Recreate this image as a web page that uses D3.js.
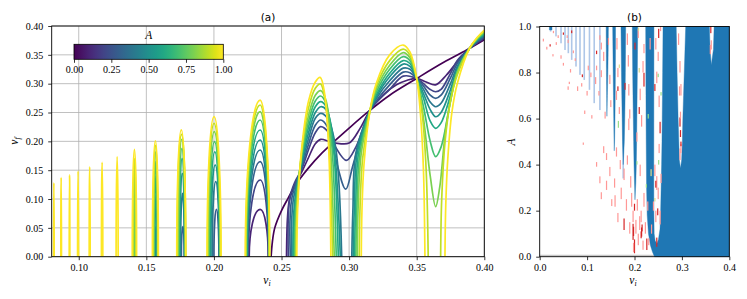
<!DOCTYPE html>
<html>
<head>
<meta charset="utf-8">
<script src="https://cdn.jsdelivr.net/npm/d3@7"></script>
<style>
body { margin: 0; background: #fff; }
</style>
</head>
<body>
<svg id="fig" width="747" height="299"></svg>
<script>
// ---------------- data ----------------

// amplitudes of the curves in panel (a)
var aValues = [0, 0.1, 0.2, 0.3, 0.4, 0.5, 0.6, 0.7, 0.8, 0.9, 1.0];

// ticks
var xTicksA = [0.10, 0.15, 0.20, 0.25, 0.30, 0.35, 0.40];
var yTicksA = [0.00, 0.05, 0.10, 0.15, 0.20, 0.25, 0.30, 0.35, 0.40];
var xTicksB = [0.0, 0.1, 0.2, 0.3, 0.4];
var yTicksB = [0.0, 0.2, 0.4, 0.6, 0.8, 1.0];
var cbTicks = [0.00, 0.25, 0.50, 0.75, 1.00];

// narrow resonance windows: [A, left v_i, right v_i, top v_f, (peak v_i)]
var narrowArches = [
  [1.0, 0.08137, 0.08183, 0.128],
  [1.0, 0.08677, 0.08723, 0.137],
  [1.0, 0.09297, 0.09343, 0.1417],
  [1.0, 0.09915, 0.09985, 0.1486],
  [1.0, 0.10775, 0.10845, 0.156],
  [1.0, 0.1168, 0.1178, 0.1636],
  [1.0, 0.12765, 0.12915, 0.1734],
  [0.6, 0.1414, 0.1420, 0.069], [0.7, 0.1411, 0.1421, 0.116], [0.8, 0.1408, 0.1422, 0.145],
  [0.9, 0.1402, 0.1424, 0.170], [1.0, 0.1396, 0.1428, 0.186],
  [0.4, 0.1566, 0.1578, 0.052], [0.5, 0.1563, 0.1580, 0.107], [0.6, 0.1560, 0.1581, 0.140],
  [0.7, 0.1557, 0.1583, 0.165], [0.8, 0.1554, 0.1584, 0.182], [0.9, 0.1550, 0.1586, 0.193],
  [1.0, 0.1545, 0.1589, 0.201],
  [0.3, 0.1759, 0.1781, 0.052], [0.4, 0.1753, 0.1782, 0.110], [0.5, 0.1748, 0.1784, 0.1446],
  [0.6, 0.1744, 0.1785, 0.1706], [0.7, 0.1740, 0.1787, 0.188], [0.8, 0.1735, 0.1789, 0.2035],
  [0.9, 0.1729, 0.1791, 0.212], [1.0, 0.1725, 0.1792, 0.220],
  [0.3, 0.2000, 0.2037, 0.082], [0.4, 0.1987, 0.2040, 0.130], [0.5, 0.1977, 0.2042, 0.159],
  [0.6, 0.1970, 0.2043, 0.182], [0.7, 0.1964, 0.2045, 0.1994], [0.8, 0.1958, 0.2047, 0.2167],
  [0.9, 0.1953, 0.2049, 0.231], [1.0, 0.1949, 0.2053, 0.2427],
  [0.1, 0.2261, 0.2402, 0.082, 0.2342], [0.2, 0.2255, 0.2404, 0.133, 0.2342],
  [0.3, 0.2251, 0.2405, 0.165, 0.2342], [0.4, 0.2248, 0.2406, 0.185, 0.2342],
  [0.5, 0.2245, 0.2407, 0.2023, 0.2342], [0.6, 0.2242, 0.2408, 0.2197, 0.2342],
  [0.7, 0.2240, 0.2409, 0.237, 0.2342], [0.8, 0.2237, 0.2410, 0.2514, 0.2342],
  [0.9, 0.2235, 0.2411, 0.263, 0.2342], [1.0, 0.2232, 0.2412, 0.2716, 0.2342]
];

// wide region curves: [A, [[v_i, v_f], ...]]
var wideSegments = [
  [0.0, [[0.2423,0],[0.2432,0.025],[0.245,0.05],[0.25,0.08],[0.255,0.102],[0.26,0.123],[0.27,0.154],
         [0.28,0.18],[0.29,0.202],[0.30,0.223],[0.3155,0.254],[0.33,0.28],[0.35,0.309],[0.37,0.337],
         [0.389,0.361],[0.40,0.376]]],
  [0.1, [[0.2537,0],[0.2545,0.07],[0.256,0.1],[0.26,0.125],[0.265,0.147],[0.27,0.172],[0.275,0.196],
         [0.279,0.2035],[0.285,0.2],[0.29,0.197],[0.30,0.197],[0.308,0.222],[0.3155,0.254],[0.325,0.28],
         [0.335,0.298],[0.343,0.306],[0.35,0.309],[0.357,0.303],[0.364,0.298],[0.372,0.315],[0.38,0.338],
         [0.389,0.361],[0.395,0.371],[0.40,0.378]]],
  [0.2, [[0.255,0],[0.256,0.1],[0.26,0.13],[0.265,0.152],[0.27,0.186],[0.275,0.215],[0.279,0.2254],
         [0.285,0.215],[0.29,0.19],[0.298,0.167],[0.305,0.19],[0.3155,0.254],[0.32,0.267],[0.33,0.29],
         [0.34,0.313],[0.35,0.309],[0.355,0.3],[0.36,0.29],[0.364,0.286],[0.368,0.29],[0.375,0.318],
         [0.38,0.34],[0.389,0.361],[0.395,0.372],[0.40,0.38]]],
  [0.3, [[0.2565,0],[0.2575,0.1],[0.265,0.155],[0.27,0.195],[0.275,0.228],[0.279,0.237],[0.284,0.225],
         [0.29,0.17],[0.2975,0.117],[0.303,0.16],[0.3155,0.254],[0.32,0.27],[0.33,0.298],[0.34,0.32],
         [0.345,0.319],[0.35,0.309],[0.355,0.296],[0.36,0.28],[0.364,0.2746],[0.368,0.28],[0.375,0.31],
         [0.38,0.335],[0.389,0.361],[0.395,0.373],[0.40,0.381]]],
  [0.4, [[0.2575,0],[0.2585,0.095],[0.265,0.16],[0.27,0.205],[0.275,0.24],[0.279,0.2486],[0.284,0.24],
         [0.29,0.19],[0.2945,0]]],
  [0.4, [[0.302,0],[0.3028,0.08],[0.305,0.18],[0.3155,0.254],[0.32,0.274],[0.33,0.305],[0.34,0.327],
         [0.345,0.325],[0.35,0.309],[0.355,0.29],[0.36,0.268],[0.364,0.26],[0.368,0.266],[0.375,0.3],
         [0.38,0.33],[0.389,0.361],[0.395,0.375],[0.40,0.383]]],
  [0.5, [[0.2585,0],[0.2595,0.09],[0.265,0.165],[0.27,0.215],[0.275,0.25],[0.279,0.26],[0.283,0.255],
         [0.288,0.21],[0.2935,0]]],
  [0.5, [[0.303,0],[0.3038,0.08],[0.306,0.18],[0.3155,0.254],[0.32,0.277],[0.33,0.312],[0.34,0.334],
         [0.345,0.33],[0.35,0.309],[0.355,0.283],[0.36,0.255],[0.364,0.2427],[0.368,0.25],[0.375,0.29],
         [0.38,0.326],[0.389,0.361],[0.395,0.376],[0.40,0.385]]],
  [0.6, [[0.259,0],[0.26,0.085],[0.265,0.17],[0.27,0.225],[0.275,0.26],[0.279,0.2688],[0.283,0.26],
         [0.288,0.2],[0.292,0]]],
  [0.6, [[0.304,0],[0.3048,0.08],[0.307,0.18],[0.3155,0.254],[0.32,0.28],[0.33,0.318],[0.34,0.34],
         [0.345,0.335],[0.35,0.309],[0.355,0.275],[0.36,0.235],[0.364,0.2226],[0.368,0.232],[0.375,0.28],
         [0.38,0.322],[0.389,0.361],[0.395,0.377],[0.40,0.386]]],
  [0.7, [[0.2597,0],[0.2606,0.085],[0.265,0.175],[0.27,0.235],[0.275,0.27],[0.279,0.2786],[0.283,0.265],
         [0.287,0.2],[0.2905,0]]],
  [0.7, [[0.305,0],[0.3057,0.08],[0.308,0.18],[0.3155,0.254],[0.32,0.285],[0.33,0.325],[0.34,0.347],
         [0.345,0.34],[0.35,0.309],[0.355,0.26],[0.36,0.2],[0.364,0.1734],[0.368,0.19],[0.375,0.27],
         [0.38,0.32],[0.389,0.361],[0.395,0.378],[0.40,0.388]]],
  [0.8, [[0.2603,0],[0.2612,0.085],[0.265,0.18],[0.27,0.245],[0.275,0.28],[0.279,0.288],[0.283,0.27],
         [0.286,0.2],[0.289,0]]],
  [0.8, [[0.306,0],[0.3066,0.08],[0.309,0.18],[0.3155,0.254],[0.32,0.29],[0.33,0.332],[0.34,0.354],
         [0.345,0.345],[0.35,0.309],[0.355,0.24],[0.36,0.14],[0.364,0.0867],[0.367,0.12],[0.372,0.23],
         [0.38,0.32],[0.389,0.361],[0.395,0.379],[0.40,0.39]]],
  [0.9, [[0.2608,0],[0.2616,0.085],[0.265,0.185],[0.27,0.258],[0.275,0.292],[0.2788,0.2997],[0.282,0.275],
         [0.285,0.2],[0.2878,0]]],
  [0.9, [[0.3075,0],[0.308,0.08],[0.31,0.17],[0.3155,0.254],[0.32,0.295],[0.33,0.34],[0.34,0.36],
         [0.345,0.35],[0.35,0.309],[0.354,0.25],[0.357,0.15],[0.3585,0]]],
  [0.9, [[0.3677,0],[0.3685,0.1],[0.371,0.2],[0.375,0.27],[0.38,0.315],[0.389,0.361],[0.395,0.38],[0.40,0.391]]],
  [1.0, [[0.2613,0],[0.262,0.087],[0.265,0.19],[0.27,0.27],[0.275,0.303],[0.2786,0.311],[0.282,0.281],
         [0.285,0.182],[0.2865,0]]],
  [1.0, [[0.309,0],[0.3095,0.08],[0.311,0.16],[0.3155,0.254],[0.32,0.3],[0.33,0.35],[0.34,0.367],
         [0.345,0.355],[0.35,0.309],[0.353,0.24],[0.355,0.15],[0.3561,0]]],
  [1.0, [[0.3709,0],[0.3715,0.09],[0.373,0.17],[0.376,0.25],[0.38,0.3],[0.389,0.361],[0.395,0.381],[0.40,0.393]]]
];

// panel (b): escape regions [v_i, A] outlines
var escapeRegions = [
  [[0.4,0],[0.4,1],[0.368,1],[0.3665,0.9],[0.362,0.833],[0.3595,0.9],[0.358,1],[0.308,1],[0.3065,0.9],
   [0.305,0.8],[0.3035,0.7],[0.302,0.6],[0.301,0.5],[0.2995,0.42],[0.297,0.384],[0.2945,0.42],[0.2935,0.5],
   [0.292,0.6],[0.291,0.7],[0.2898,0.8],[0.289,0.9],[0.288,1],[0.2602,1],[0.2598,0.9],[0.2594,0.8],
   [0.259,0.7],[0.2585,0.6],[0.258,0.5],[0.2572,0.4],[0.2562,0.3],[0.2552,0.2],[0.2538,0.12],[0.2505,0.075],
   [0.247,0.055],[0.2435,0.07],[0.2415,0.1],[0.2408,0.2],[0.2407,0.4],[0.2408,0.6],[0.2409,0.8],[0.241,1],
   [0.2236,1],[0.2238,0.9],[0.2242,0.7],[0.2247,0.5],[0.2255,0.3],[0.2268,0.18],[0.2295,0.1],[0.2335,0.05],
   [0.238,0.02],[0.2423,0]],
  [[0.1954,1],[0.1958,0.9],[0.1962,0.8],[0.1968,0.7],[0.1975,0.6],[0.1982,0.5],[0.199,0.4],[0.2,0.32],
   [0.201,0.247],[0.2028,0.32],[0.2038,0.4],[0.2045,0.5],[0.205,0.6],[0.2055,0.7],[0.206,0.8],[0.2064,0.9],[0.2068,1]],
  [[0.1715,1],[0.172,0.9],[0.1725,0.8],[0.1732,0.7],[0.174,0.6],[0.1748,0.5],[0.1762,0.4],[0.1785,0.5],
   [0.1795,0.6],[0.1802,0.7],[0.1807,0.8],[0.1811,0.9],[0.1814,1]],
  [[0.1540,1],[0.1545,0.9],[0.155,0.8],[0.1556,0.7],[0.1562,0.6],[0.1568,0.5],[0.1573,0.46],[0.158,0.5],
   [0.1588,0.6],[0.1593,0.7],[0.1597,0.8],[0.1599,0.9],[0.1600,1]],
  [[0.1402,1],[0.1405,0.9],[0.1408,0.8],[0.1412,0.7],[0.1418,0.61],[0.1428,0.7],[0.1438,0.8],[0.1445,0.9],[0.1449,1]],
  [[0.0205,1],[0.0205,0.985],[0.026,0.985],[0.026,1]]
];

// panel (b): thin light-blue windows [v_i, lowest A]
var lightWindows = [
  [0.023,0.978],[0.0344,0.957],[0.045,0.927],[0.0534,0.898],[0.0604,0.884],[0.0675,0.855],
  [0.0766,0.826],[0.085,0.79],[0.094,0.768],[0.105,0.725],[0.115,0.667],[0.127,0.637],
  [0.1762,0.34]
];

// panel (b): scattered outcomes [v_i, A, length in A, class]
var speckles = [
  [0.0077,0.935,0.012,1],[0.029,0.971,0.01,1],[0.022,0.913,0.01,0],[0.039,0.95,0.012,1],[0.05,0.964,0.01,0],
  [0.06,0.928,0.015,1],[0.0675,0.971,0.012,0],[0.071,0.884,0.012,1],[0.06,0.725,0.015,1],[0.0625,0.75,0.01,1],
  [0.0886,0.739,0.015,1],[0.09,0.78,0.012,0],[0.1025,0.81,0.02,1],[0.12,0.81,0.02,1],[0.12,0.88,0.015,0],
  [0.127,0.942,0.02,1],[0.13,0.9,0.03,1],[0.162,0.681,0.04,1],[0.18,0.725,0.03,0],[0.187,0.826,0.05,1],
  [0.201,0.9,0.03,0],[0.22,0.884,0.04,1],[0.22,0.739,0.06,0],[0.215,0.565,0.05,1],[0.247,0.754,0.05,1],
  [0.254,0.536,0.05,0],[0.296,0.565,0.04,0],[0.297,0.6,0.03,1],[0.361,0.971,0.03,0],[0.362,0.9,0.04,1],
  [0.092,0.486,0.01,1],[0.12,0.391,0.02,1],[0.127,0.319,0.03,1],[0.141,0.42,0.03,1],[0.141,0.29,0.04,1],
  [0.159,0.217,0.05,1],[0.162,0.435,0.04,1],[0.178,0.333,0.05,1],[0.178,0.116,0.05,0],[0.194,0.217,0.06,1],
  [0.197,0.073,0.07,0],[0.2,0.015,0.06,0],[0.211,0.116,0.06,1],[0.215,0.087,0.04,0],[0.22,0.217,0.06,1],
  [0.226,0.029,0.05,0],[0.247,0.29,0.06,1],[0.247,0.043,0.04,0],[0.254,0.14,0.06,1],[0.296,0.42,0.05,1],
  [0.166,0.56,0.03,2],[0.229,0.6,0.02,2],[0.21,0.8,0.02,3],[0.251,0.4,0.02,2],[0.235,0.35,0.03,3],
  [0.205,0.5,0.04,1],[0.188,0.55,0.05,1],[0.233,0.9,0.05,1],[0.251,0.95,0.04,0],[0.298,0.7,0.05,1],
  [0.015,0.9,0.012,1],[0.028,0.87,0.01,1],[0.035,0.92,0.012,1],[0.045,0.86,0.015,1],[0.05,0.83,0.012,1],
  [0.058,0.95,0.012,1],[0.065,0.8,0.015,1],[0.075,0.85,0.012,1],[0.08,0.72,0.02,1],[0.095,0.62,0.015,1],
  [0.1,0.7,0.02,1],[0.108,0.78,0.02,1],[0.11,0.6,0.015,1],[0.118,0.75,0.03,1],[0.125,0.7,0.02,1],
  [0.13,0.78,0.03,1],[0.135,0.85,0.04,1],[0.138,0.6,0.03,1],[0.145,0.92,0.03,1],[0.148,0.75,0.04,1],
  [0.15,0.65,0.03,1],[0.163,0.9,0.05,1],[0.165,0.78,0.04,1],[0.168,0.62,0.03,1],[0.185,0.92,0.05,1],
  [0.188,0.7,0.05,1],[0.19,0.6,0.04,1],[0.208,0.95,0.04,1],[0.212,0.68,0.05,1],[0.218,0.8,0.05,1],
  [0.245,0.9,0.05,1],[0.25,0.85,0.04,1],[0.252,0.65,0.05,1],[0.255,0.98,0.02,1],[0.293,0.92,0.05,1],
  [0.296,0.8,0.05,1],[0.295,0.7,0.04,1],[0.298,0.45,0.04,1],[0.36,0.88,0.04,1],
  [0.165,0.72,0.02,0],[0.21,0.62,0.03,0],[0.243,0.72,0.03,0],[0.297,0.52,0.03,0],[0.298,0.48,0.02,0],
  [0.168,0.82,0.015,3],[0.2085,0.98,0.015,3],[0.25,0.78,0.015,2],[0.256,0.7,0.015,2],
  [0.13,0.25,0.03,1],[0.135,0.45,0.03,1],[0.148,0.35,0.04,1],[0.152,0.22,0.03,1],[0.158,0.3,0.04,1],
  [0.165,0.15,0.04,1],[0.17,0.38,0.04,1],[0.172,0.25,0.05,1],[0.183,0.2,0.05,1],[0.185,0.4,0.04,1],
  [0.19,0.1,0.05,1],[0.192,0.3,0.05,1],[0.197,0.15,0.05,1],[0.198,0.02,0.04,1],[0.203,0.1,0.06,1],
  [0.206,0.2,0.05,1],[0.208,0.05,0.05,1],[0.212,0.35,0.05,1],[0.214,0.15,0.05,1],[0.218,0.03,0.04,1],
  [0.223,0.1,0.05,1],[0.228,0.2,0.04,1],[0.23,0.05,0.03,1],[0.236,0.1,0.04,1],[0.24,0.2,0.04,1],
  [0.243,0.35,0.05,1],[0.245,0.15,0.05,1],[0.25,0.25,0.05,1],[0.252,0.45,0.04,1],[0.256,0.32,0.04,1],
  [0.198,0.09,0.04,0],[0.214,0.08,0.03,0],[0.216,0.11,0.03,0],[0.2,0.2,0.03,0],[0.245,0.3,0.03,0],
  [0.249,0.18,0.03,0],[0.205,0.4,0.015,2],[0.225,0.3,0.015,2],[0.243,0.24,0.015,3]
];

// ---------------- layout ----------------
var PA = {left: 51.7, right: 484.3, top: 26, bottom: 256.7};
var PB = {left: 539.7, right: 729.3, top: 26.5, bottom: 256.7};
var LINEW = 1.7;
var SERIF = "Liberation Serif";
var SANS = "DejaVu Sans";
var specColors = ["#d62728", "#ff9896", "#98df8a", "#dbdb8d"];

var svg = d3.select("#fig");
var defs = svg.append("defs");

// scales
var xa = d3.scaleLinear().domain([0.08, 0.40]).range([PA.left, PA.right]);
var ya = d3.scaleLinear().domain([0, 0.40]).range([PA.bottom, PA.top]);
var xb = d3.scaleLinear().domain([0, 0.4]).range([PB.left, PB.right]);
var yb = d3.scaleLinear().domain([0, 1]).range([PB.bottom, PB.top]);
var color = function(a){ return d3.interpolateViridis(a); };

// ---------------- panel (a) ----------------
defs.append("clipPath").attr("id", "clipA")
  .append("rect")
  .attr("x", PA.left).attr("y", PA.top)
  .attr("width", PA.right - PA.left).attr("height", PA.bottom - PA.top);

// grid
var grid = svg.append("g");
grid.selectAll(".gx").data(xTicksA).enter().append("line")
  .attr("x1", function(d){ return xa(d); }).attr("x2", function(d){ return xa(d); })
  .attr("y1", PA.top).attr("y2", PA.bottom)
  .style("stroke", "#b0b0b0").style("stroke-width", 0.8);
grid.selectAll(".gy").data(yTicksA).enter().append("line")
  .attr("x1", PA.left).attr("x2", PA.right)
  .attr("y1", function(d){ return ya(d); }).attr("y2", function(d){ return ya(d); })
  .style("stroke", "#b0b0b0").style("stroke-width", 0.8);

var curves = svg.append("g").attr("clip-path", "url(#clipA)");

// arch = two quarter ellipses meeting at the peak
var archPath = function(d){
  var x0 = xa(d[1]), x1 = xa(d[2]);
  var xp = xa(d.length > 4 ? d[4] : (d[1] + d[2]) / 2);
  var y0 = ya(0), yt = ya(d[3]);
  return "M" + x0 + "," + y0 +
    "A" + (xp - x0) + "," + (y0 - yt) + " 0 0 1 " + xp + "," + yt +
    "A" + (x1 - xp) + "," + (y0 - yt) + " 0 0 1 " + x1 + "," + y0;
};
var line = d3.line()
  .x(function(d){ return xa(d[0]); })
  .y(function(d){ return ya(d[1]); })
  .curve(d3.curveCatmullRom.alpha(0.5));

// draw by amplitude so the largest A ends on top
aValues.forEach(function(a){
  var arches = narrowArches.filter(function(d){ return Math.abs(d[0] - a) < 1e-6; });
  curves.selectAll(null).data(arches).enter().append("path")
    .attr("d", archPath)
    .style("fill", "none")
    .style("stroke", color(a))
    .style("stroke-width", LINEW);
  var segs = wideSegments.filter(function(d){ return Math.abs(d[0] - a) < 1e-6; });
  curves.selectAll(null).data(segs).enter().append("path")
    .attr("d", function(d){ return line(d[1]); })
    .style("fill", "none")
    .style("stroke", color(a))
    .style("stroke-width", LINEW)
    .style("stroke-linejoin", "round");
});

// axes
var styleAxis = function(g){
  g.select(".domain").remove();
  g.attr("font-size", 10).attr("font-family", SERIF);
  g.selectAll(".tick line").style("stroke", "#000").style("stroke-width", 0.8);
  g.selectAll(".tick text").attr("fill", "#000");
};
svg.append("g").attr("transform", "translate(0," + PA.bottom + ")")
  .call(d3.axisBottom(xa).tickValues(xTicksA).tickFormat(d3.format(".2f")).tickSize(3.5).tickPadding(4))
  .call(styleAxis);
svg.append("g").attr("transform", "translate(" + PA.left + ",0)")
  .call(d3.axisLeft(ya).tickValues(yTicksA).tickFormat(d3.format(".2f")).tickSize(3.5).tickPadding(5))
  .call(styleAxis);
svg.append("rect")
  .attr("x", PA.left).attr("y", PA.top)
  .attr("width", PA.right - PA.left).attr("height", PA.bottom - PA.top)
  .style("fill", "none").style("stroke", "#000").style("stroke-width", 0.9);

// labels
svg.append("text").attr("x", (PA.left + PA.right) / 2).attr("y", 21)
  .attr("text-anchor", "middle").attr("font-family", SANS).attr("font-size", 10.5).text("(a)");
var xl = svg.append("text").attr("x", 267).attr("y", 284).attr("font-family", SERIF)
  .attr("text-anchor", "middle").attr("font-size", 11.5).attr("font-style", "italic");
xl.append("tspan").text("v");
xl.append("tspan").attr("font-size", 8).attr("dy", 2).text("i");
var yl = svg.append("text").attr("transform", "translate(18,141) rotate(-90)").attr("font-family", SERIF)
  .attr("text-anchor", "middle").attr("font-size", 11.5).attr("font-style", "italic");
yl.append("tspan").text("v");
yl.append("tspan").attr("font-size", 8).attr("dy", 2).text("f");

// colorbar inset
var cb = {x0: 74, x1: 223.3, y0: 44.3, y1: 59.3};
var grad = defs.append("linearGradient").attr("id", "vir");
d3.range(0, 1.0001, 0.05).forEach(function(t){
  grad.append("stop").attr("offset", t).attr("stop-color", d3.interpolateViridis(t));
});
var xc = d3.scaleLinear().domain([0, 1]).range([cb.x0, cb.x1]);
svg.append("rect").attr("x", cb.x0).attr("y", cb.y0)
  .attr("width", cb.x1 - cb.x0).attr("height", cb.y1 - cb.y0)
  .style("fill", "url(#vir)").style("stroke", "#000").style("stroke-width", 0.8);
svg.append("g").attr("transform", "translate(0," + cb.y1 + ")")
  .call(d3.axisBottom(xc).tickValues(cbTicks).tickFormat(d3.format(".2f")).tickSize(3.5).tickPadding(3))
  .call(styleAxis);
svg.append("text").attr("x", xc(0.5)).attr("y", 38.5).attr("font-family", SERIF)
  .attr("text-anchor", "middle").attr("font-size", 11.5)
  .attr("font-style", "italic").text("A");

// ---------------- panel (b) ----------------
var pb = svg.append("g");
var area = d3.line()
  .x(function(d){ return xb(d[0]); })
  .y(function(d){ return yb(d[1]); });

// captured row at A = 0
pb.append("line")
  .attr("x1", xb(0)).attr("x2", xb(0.2423))
  .attr("y1", yb(0) - 1.2).attr("y2", yb(0) - 1.2)
  .style("stroke", "#c7c7c7").style("stroke-width", 1.4);

pb.selectAll(".lw").data(lightWindows).enter().append("rect")
  .attr("x", function(d){ return xb(d[0]) - 0.8; })
  .attr("y", yb(1))
  .attr("width", 1.6)
  .attr("height", function(d){ return yb(d[1]) - yb(1); })
  .style("fill", "#aec7e8");

pb.selectAll(".esc").data(escapeRegions).enter().append("path")
  .attr("d", function(d){ return area(d) + "Z"; })
  .style("fill", "#1f77b4").style("stroke", "#1f77b4").style("stroke-width", 0.4);

pb.selectAll(".sp").data(speckles).enter().append("rect")
  .attr("x", function(d){ return xb(d[0]) - 0.6; })
  .attr("y", function(d){ return yb(d[1] + d[2]); })
  .attr("width", 1.2)
  .attr("height", function(d){ return yb(d[1]) - yb(d[1] + d[2]); })
  .style("fill", function(d){ return specColors[d[3]]; });

svg.append("g").attr("transform", "translate(0," + PB.bottom + ")")
  .call(d3.axisBottom(xb).tickValues(xTicksB).tickFormat(d3.format(".1f")).tickSize(3.5).tickPadding(4))
  .call(styleAxis);
svg.append("g").attr("transform", "translate(" + PB.left + ",0)")
  .call(d3.axisLeft(yb).tickValues(yTicksB).tickFormat(d3.format(".1f")).tickSize(3.5).tickPadding(5))
  .call(styleAxis);
svg.append("rect")
  .attr("x", PB.left).attr("y", PB.top)
  .attr("width", PB.right - PB.left).attr("height", PB.bottom - PB.top)
  .style("fill", "none").style("stroke", "#000").style("stroke-width", 0.9);

svg.append("text").attr("x", (PB.left + PB.right) / 2).attr("y", 21).attr("font-family", SANS)
  .attr("text-anchor", "middle").attr("font-size", 10.5).text("(b)");
var xl2 = svg.append("text").attr("x", 633).attr("y", 284).attr("font-family", SERIF)
  .attr("text-anchor", "middle").attr("font-size", 11.5).attr("font-style", "italic");
xl2.append("tspan").text("v");
xl2.append("tspan").attr("font-size", 8).attr("dy", 2).text("i");
svg.append("text").attr("transform", "translate(515,142) rotate(-90)").attr("font-family", SERIF)
  .attr("text-anchor", "middle").attr("font-size", 11.5)
  .attr("font-style", "italic").text("A");
</script>
</body>
</html>
